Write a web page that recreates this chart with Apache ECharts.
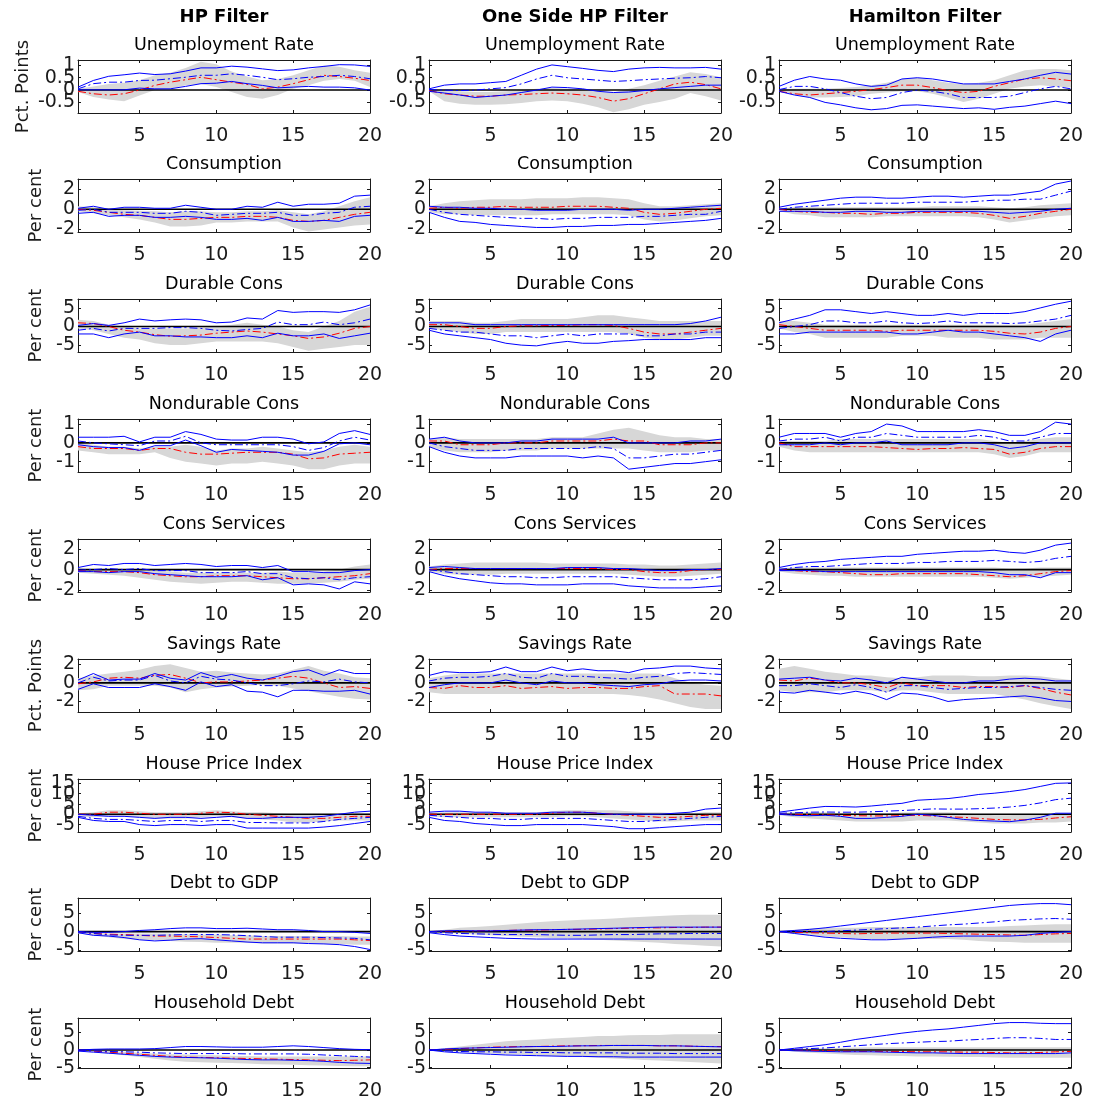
<!DOCTYPE html>
<html><head><meta charset="utf-8">
<script src="https://cdn.jsdelivr.net/npm/echarts@6/dist/echarts.min.js"></script>
<style>html,body{margin:0;padding:0;background:#fff}#c{width:1097px;height:1101px}</style>
</head><body><div id="c"></div><script>
// ---------------- DATA ----------------
var horizons = [1,2,3,4,5,6,7,8,9,10,11,12,13,14,15,16,17,18,19,20];
var xTickValues = [5,10,15,20];
var columnTitles = ['HP Filter','One Side HP Filter','Hamilton Filter'];
var colKeys = ['hp','os','ham'];
var rowKeys = ['unemp','cons','dur','nondur','serv','sav','hpi','dgdp','hhd'];
var rowTitles = ['Unemployment Rate','Consumption','Durable Cons','Nondurable Cons','Cons Services','Savings Rate','House Price Index','Debt to GDP','Household Debt'];
var rowUnits = ['Pct. Points','Per cent','Per cent','Per cent','Per cent','Pct. Points','Per cent','Per cent','Per cent'];
var yMinByRow = [-0.93,-2.25,-6.85,-1.55,-2.2,-3.13,-8.6,-5.2,-5.1];
var yMaxByRow = [1.22,3,7.4,1.27,3,2.56,17.1,9,9.1];
var yTickLabels = [[-0.5,0,0.5,1],[-2,0,2],[-5,0,5],[-1,0,1],[-2,0,2],[-2,0,2],[-5,0,5,10,15],[-5,0,5],[-5,0,5]];
var zeroLevel = 0;

// Unemployment
var unemp_hp_gHi = [0.05,0.15,0.25,0.3,0.4,0.6,0.7,0.9,1.15,1.05,0.75,0.55,0.4,0.45,0.6,0.8,1.0,0.95,0.8,0.7];
var unemp_hp_gLo = [-0.08,-0.28,-0.38,-0.45,-0.22,0,0.05,0.2,0.25,0.12,-0.08,-0.28,-0.35,-0.2,0.05,0.2,0.38,0.45,0.38,0.12];
var unemp_hp_red = [-0.05,-0.15,-0.2,-0.15,0,0.19,0.32,0.42,0.52,0.42,0.32,0.23,0.05,0.12,0.26,0.42,0.6,0.55,0.48,0.39];
var unemp_hp_bMid = [0.05,0.26,0.32,0.32,0.39,0.4,0.46,0.52,0.6,0.6,0.66,0.6,0.52,0.42,0.46,0.52,0.55,0.6,0.55,0.46];
var unemp_hp_bHi = [0.12,0.39,0.56,0.62,0.69,0.63,0.66,0.77,0.9,0.9,0.97,0.93,0.86,0.79,0.82,0.9,0.96,1.03,1.02,0.96];
var unemp_hp_bLo = [0.01,0.01,0.01,0.01,0.08,0.05,0.05,0.15,0.26,0.28,0.35,0.26,0.19,0.09,0.12,0.15,0.12,0.12,0.09,0];

var unemp_os_gHi = [0.02,-0.02,-0.05,-0.08,-0.08,-0.05,0,0.05,0.08,0.05,0.02,-0.05,-0.1,0.05,0.2,0.38,0.55,0.72,0.65,0.52];
var unemp_os_gLo = [-0.05,-0.45,-0.55,-0.6,-0.6,-0.58,-0.52,-0.45,-0.42,-0.45,-0.55,-0.7,-0.9,-0.78,-0.6,-0.48,-0.35,-0.12,-0.25,-0.42];
var unemp_os_red = [-0.02,-0.15,-0.2,-0.25,-0.25,-0.2,-0.18,-0.15,-0.12,-0.15,-0.2,-0.3,-0.45,-0.35,-0.15,0.05,0.25,0.32,0.22,0.05];
var unemp_os_bMid = [0.02,0,-0.02,0,0.05,0.1,0.25,0.45,0.6,0.5,0.45,0.4,0.35,0.38,0.42,0.45,0.48,0.5,0.55,0.5];
var unemp_os_bHi = [0.05,0.2,0.25,0.25,0.3,0.35,0.6,0.85,1.02,0.95,0.88,0.8,0.75,0.85,0.9,0.92,0.9,0.9,0.92,0.85];
var unemp_os_bLo = [-0.05,-0.12,-0.2,-0.3,-0.25,-0.2,-0.1,0,0.12,0.1,0.05,-0.05,-0.1,-0.08,-0.02,0.05,0.1,0.15,0.2,0.2];

var unemp_ham_gHi = [0.02,0.05,0.05,0.05,0.08,0.12,0.2,0.3,0.45,0.5,0.4,0.3,0.25,0.3,0.4,0.6,0.8,0.85,0.85,0.8];
var unemp_ham_gLo = [-0.05,-0.2,-0.3,-0.3,-0.28,-0.25,-0.15,-0.1,-0.05,-0.05,-0.15,-0.3,-0.48,-0.35,-0.15,0.05,0.15,0.2,0.15,0.1];
var unemp_ham_red = [-0.05,-0.15,-0.2,-0.15,-0.1,-0.05,0.02,0.1,0.2,0.2,0.1,-0.02,-0.1,-0.05,0.15,0.3,0.45,0.5,0.45,0.38];
var unemp_ham_bMid = [0.02,0.15,0.15,0.05,-0.1,-0.25,-0.35,-0.3,-0.1,0,-0.05,-0.15,-0.3,-0.3,-0.3,-0.25,-0.1,0.05,0.15,0.05];
var unemp_ham_bHi = [0.15,0.4,0.55,0.45,0.4,0.25,0.15,0.2,0.45,0.5,0.45,0.35,0.25,0.25,0.25,0.35,0.45,0.6,0.72,0.65];
var unemp_ham_bLo = [-0.05,-0.2,-0.3,-0.5,-0.6,-0.72,-0.8,-0.75,-0.62,-0.6,-0.65,-0.7,-0.75,-0.72,-0.78,-0.7,-0.65,-0.55,-0.45,-0.55];

// Consumption
var cons_hp_gHi = [0.3,0.2,0,-0.1,-0.15,-0.2,-0.3,-0.2,-0.2,-0.3,-0.3,-0.2,-0.2,-0.1,-0.3,-0.5,-0.2,0.3,0.8,1.2];
var cons_hp_gLo = [-0.2,-0.4,-0.6,-0.8,-1.0,-1.3,-1.7,-1.7,-1.6,-1.3,-1.3,-1.2,-1.2,-1.2,-1.8,-2.2,-2.0,-1.8,-1.6,-1.5];
var cons_hp_red = [0,-0.1,-0.3,-0.5,-0.6,-0.8,-1.0,-1.0,-0.9,-0.8,-0.8,-0.7,-0.7,-0.8,-1.1,-1.2,-1.1,-0.8,-0.5,-0.3];
var cons_hp_bMid = [-0.1,0,-0.3,-0.3,-0.3,-0.4,-0.4,-0.2,-0.3,-0.6,-0.5,-0.4,-0.4,-0.3,-0.6,-0.6,-0.4,-0.3,0.2,0.3];
var cons_hp_bHi = [0.1,0.3,0,0.2,0.2,0.1,0.1,0.4,0.2,0,0,0.3,0.2,0.7,0.3,0.5,0.5,0.6,1.3,1.4];
var cons_hp_bLo = [-0.4,-0.3,-0.7,-0.6,-0.6,-0.8,-0.8,-0.7,-0.8,-1.0,-1.0,-0.9,-1.1,-0.8,-1.2,-1.2,-1.1,-1.2,-0.7,-0.6];

var cons_os_gHi = [0.3,0.6,0.8,0.9,1.0,1.0,1.0,1.1,1.1,1.1,1.2,1.2,1.1,1.0,0.6,0.3,0.3,0.4,0.5,0.6];
var cons_os_gLo = [-0.3,-0.5,-0.5,-0.6,-0.6,-0.6,-0.6,-0.6,-0.5,-0.5,-0.5,-0.5,-0.5,-0.6,-1.0,-1.2,-1.1,-0.9,-0.7,-0.6];
var cons_os_red = [0.1,0.2,0.1,0.2,0.2,0.3,0.2,0.2,0.2,0.3,0.3,0.3,0.2,0.1,-0.3,-0.5,-0.4,-0.2,0,0.1];
var cons_os_bMid = [0,-0.3,-0.5,-0.6,-0.7,-0.8,-0.9,-0.9,-1.0,-0.9,-0.9,-0.8,-0.8,-0.8,-0.7,-0.7,-0.6,-0.5,-0.5,-0.2];
var cons_os_bHi = [0.3,0.2,0.2,0.1,0.1,0,0,-0.1,-0.1,-0.1,0,0,0,-0.1,0,0,0.1,0.2,0.3,0.4];
var cons_os_bLo = [-0.3,-0.8,-1.2,-1.3,-1.5,-1.6,-1.7,-1.8,-1.8,-1.7,-1.7,-1.6,-1.6,-1.5,-1.5,-1.4,-1.3,-1.2,-1.1,-0.9];

var cons_ham_gHi = [0.1,0.2,0.2,0.2,0.2,0.2,0.2,0.2,0.2,0.2,0.3,0.3,0.3,0.3,0.2,0.1,0.2,0.4,0.5,0.6];
var cons_ham_gLo = [-0.2,-0.5,-0.6,-0.8,-0.8,-0.8,-0.8,-0.7,-0.7,-0.7,-0.7,-0.7,-0.7,-0.8,-1.0,-1.3,-1.1,-0.9,-0.7,-0.6];
var cons_ham_red = [0,-0.2,-0.3,-0.3,-0.4,-0.4,-0.5,-0.4,-0.4,-0.3,-0.3,-0.3,-0.3,-0.4,-0.6,-0.9,-0.7,-0.4,-0.2,0];
var cons_ham_bMid = [0,0.2,0.3,0.4,0.5,0.6,0.6,0.6,0.6,0.7,0.7,0.7,0.7,0.8,0.9,0.9,1.0,1.0,1.4,1.8];
var cons_ham_bHi = [0.2,0.5,0.7,0.9,1.1,1.2,1.2,1.1,1.1,1.2,1.3,1.3,1.2,1.3,1.4,1.4,1.6,1.8,2.5,2.8];
var cons_ham_bLo = [-0.2,-0.2,-0.2,-0.3,-0.3,-0.2,-0.2,-0.3,-0.3,-0.2,-0.2,-0.2,-0.2,-0.2,-0.3,-0.4,-0.3,-0.2,0,0.1];

// Durable consumption
var dur_hp_gHi = [1.8,1.5,0.5,0,-0.5,-0.5,-0.5,-0.5,-0.3,0,0.5,1.0,0.5,0,-1,-1.5,0,1.5,4,5.3];
var dur_hp_gLo = [-0.5,-1,-2,-3,-3.5,-4.5,-5,-5,-4.5,-4,-4,-4,-4,-4.5,-5.5,-6.5,-6,-5.5,-5,-5];
var dur_hp_red = [1,0.8,0,-1,-1.5,-2.2,-2.6,-2.5,-2.3,-1.8,-1.5,-1.2,-1.5,-2,-2.5,-3.2,-2.8,-1.8,-0.5,0];
var dur_hp_bMid = [-1,-0.5,-1.2,-0.5,-0.5,-0.5,-0.3,-0.3,-0.5,-1.0,-1.2,-0.8,-0.5,1.2,0.5,0.5,1.2,0.5,1.0,2.0];
var dur_hp_bHi = [0.3,0.8,0.3,1.0,2.0,1.5,1.8,2.0,1.8,1.0,1.2,2.3,2.0,4.3,3.8,4.0,4.0,3.8,4.5,5.8];
var dur_hp_bLo = [-2.0,-2.0,-3.0,-2.0,-1.5,-2.5,-2.5,-2.8,-2.8,-3.0,-3.0,-2.5,-3.0,-1.8,-2.5,-2.5,-2.0,-3.2,-2.5,-1.8];

var dur_os_gHi = [1.5,1.5,1.5,1.0,1.0,1.5,2,2,2,2,2.5,3,3,2.5,2,1.5,1.5,1.5,1.5,1.5];
var dur_os_gLo = [-0.5,-1,-1.5,-2,-2,-1.5,-1.5,-1.5,-1.5,-1.5,-1.5,-1.5,-1.5,-2,-3,-3.5,-3.5,-3,-2.5,-2.5];
var dur_os_red = [0.5,0.5,0,-0.5,-0.5,0,0.2,0.2,0.3,0.3,0.5,0.5,0.3,-0.5,-1.5,-2,-2,-1.5,-1,-0.5];
var dur_os_bMid = [-0.5,-1,-1.5,-1.5,-2,-2.5,-2.5,-3,-2.5,-2,-2.5,-2,-2,-2,-2.5,-2.5,-2,-2,-1.5,-1.5];
var dur_os_bHi = [1,1,1,0.5,0.5,0.5,0.5,0.5,0.5,0.5,0.5,0.5,0.5,0.5,0.5,0.5,0.5,0.8,1.5,2.5];
var dur_os_bLo = [-1,-2,-2.5,-3,-3.5,-4.5,-5,-5.2,-4.5,-4,-4.5,-4.5,-4,-3.8,-3.5,-3.5,-3.5,-3.5,-3,-3];

var dur_ham_gHi = [1.5,1.5,1,0.5,0.5,0.5,0.5,0.5,0.5,0.5,0.5,0.5,0.5,0.5,0.5,0.5,0.5,1,1.5,2];
var dur_ham_gLo = [-0.5,-1.5,-2,-3,-3,-3,-3,-3,-2.5,-2.5,-2.5,-3,-3,-3,-3.5,-3.5,-3.5,-3,-3,-3];
var dur_ham_red = [0.5,0,-0.5,-1,-1,-1,-1,-1.3,-1,-1,-1,-1,-1,-1,-1.3,-1.8,-2,-1.5,-0.5,0];
var dur_ham_bMid = [-0.5,0,0.5,1.5,1.5,1,1,1.5,1,0.8,1,1.5,1,1,1,0.8,1,1.5,2,3];
var dur_ham_bHi = [1,2,3,4.5,4.5,4,3.5,4,3.5,3,3,3.5,3,3.5,3.5,3.5,4,5,6,6.8];
var dur_ham_bLo = [-2,-2,-1.5,-1.5,-1.5,-1.5,-1.5,-1.5,-2,-2,-1.5,-1,-1.5,-1.5,-2,-2.5,-3,-4,-2,-1];

// Nondurable consumption
var nondur_hp_gHi = [0,-0.1,-0.2,-0.2,-0.3,-0.2,-0.2,-0.1,-0.2,-0.4,-0.3,-0.3,-0.2,-0.3,-0.4,-0.5,-0.4,-0.2,-0.1,-0.2];
var nondur_hp_gLo = [-0.4,-0.5,-0.6,-0.6,-0.6,-0.5,-0.8,-1.0,-1.1,-1.2,-1.1,-1.1,-1.0,-1.1,-1.2,-1.4,-1.4,-1.2,-1.1,-1.1];
var nondur_hp_red = [-0.2,-0.3,-0.3,-0.3,-0.4,-0.3,-0.3,-0.5,-0.6,-0.6,-0.55,-0.5,-0.5,-0.5,-0.6,-0.85,-0.8,-0.6,-0.55,-0.5];
var nondur_hp_bMid = [0.1,0,-0.05,-0.1,-0.15,0.1,0.1,0.35,0,-0.1,-0.1,-0.1,-0.1,-0.1,-0.2,-0.4,-0.25,0.1,0.3,0.15];
var nondur_hp_bHi = [0.3,0.3,0.3,0.35,0.05,0.3,0.3,0.6,0.45,0.2,0.15,0.15,0.3,0.3,0.2,-0.05,0.05,0.5,0.65,0.45];
var nondur_hp_bLo = [-0.1,-0.2,-0.25,-0.25,-0.4,-0.15,-0.15,0.15,-0.15,-0.5,-0.35,-0.4,-0.45,-0.5,-0.65,-0.65,-0.45,-0.05,0,-0.1];

var nondur_os_gHi = [0.2,0.3,0.2,0.2,0.2,0.2,0.2,0.2,0.3,0.3,0.3,0.5,0.7,0.8,0.6,0.4,0.3,0.3,0.2,0.2];
var nondur_os_gLo = [-0.2,-0.4,-0.5,-0.5,-0.5,-0.4,-0.4,-0.4,-0.3,-0.3,-0.3,-0.3,-0.3,-0.3,-0.4,-0.5,-0.5,-0.5,-0.4,-0.4];
var nondur_os_red = [0.1,0.1,-0.1,-0.1,-0.1,0,0,0,0.1,0.1,0.1,0.1,0.2,0.1,0.1,-0.1,-0.1,-0.1,0,0];
var nondur_os_bMid = [0,-0.2,-0.3,-0.4,-0.4,-0.4,-0.3,-0.3,-0.3,-0.3,-0.3,-0.2,-0.3,-0.8,-0.8,-0.7,-0.6,-0.6,-0.5,-0.4];
var nondur_os_bHi = [0.2,0.3,0.1,0,0,0,0.1,0.1,0.2,0.2,0.2,0.2,0.3,0,0,0,0,0.1,0.1,0.2];
var nondur_os_bLo = [-0.2,-0.5,-0.7,-0.8,-0.8,-0.8,-0.7,-0.7,-0.7,-0.7,-0.8,-0.7,-0.8,-1.4,-1.3,-1.2,-1.1,-1.1,-1.0,-0.9];

var nondur_ham_gHi = [0.1,0.1,0.1,0.1,0.2,0.2,0.2,0.2,0.2,0.2,0.2,0.2,0.2,0.2,0.1,0,0.1,0.2,0.3,0.3];
var nondur_ham_gLo = [-0.2,-0.4,-0.5,-0.5,-0.5,-0.5,-0.5,-0.5,-0.5,-0.5,-0.5,-0.5,-0.5,-0.5,-0.6,-0.8,-0.7,-0.5,-0.5,-0.5];
var nondur_ham_red = [0,-0.2,-0.2,-0.2,-0.2,-0.2,-0.2,-0.25,-0.3,-0.35,-0.3,-0.3,-0.25,-0.3,-0.35,-0.6,-0.5,-0.3,-0.2,-0.2];
var nondur_ham_bMid = [0.1,0.2,0.2,0.3,0.1,0.3,0.3,0.5,0.4,0.3,0.3,0.3,0.3,0.4,0.3,0.1,0.1,0.3,0.5,0.5];
var nondur_ham_bHi = [0.3,0.5,0.5,0.5,0.3,0.5,0.6,1.0,0.9,0.6,0.6,0.6,0.6,0.7,0.6,0.4,0.4,0.6,1.1,1.0];
var nondur_ham_bLo = [-0.1,-0.1,-0.1,0,-0.1,0,0,0.1,-0.1,-0.1,-0.1,-0.1,0,0,-0.1,-0.3,-0.2,0,0,0];

// Consumption services
var serv_hp_gHi = [0.1,0,0,-0.1,-0.1,-0.1,-0.2,-0.3,-0.3,-0.3,-0.3,-0.3,-0.3,-0.2,-0.3,-0.3,-0.2,0,0.3,0.5];
var serv_hp_gLo = [-0.3,-0.4,-0.5,-0.6,-0.8,-1.0,-1.2,-1.3,-1.4,-1.3,-1.2,-1.2,-1.3,-1.4,-1.4,-1.4,-1.3,-1.2,-1.0,-0.9];
var serv_hp_red = [-0.1,-0.2,-0.2,-0.2,-0.3,-0.5,-0.6,-0.7,-0.7,-0.6,-0.6,-0.6,-0.7,-0.8,-0.9,-0.9,-0.8,-0.7,-0.6,-0.4];
var serv_hp_bMid = [-0.05,0,0.1,0,0.1,-0.1,-0.1,-0.1,-0.3,-0.3,-0.3,-0.2,-0.4,-0.4,-0.8,-0.9,-0.8,-1.0,-0.8,-0.7];
var serv_hp_bHi = [0.2,0.5,0.4,0.6,0.6,0.4,0.5,0.6,0.5,0.3,0.4,0.4,0.2,0.4,-0.2,-0.2,-0.3,-0.3,-0.1,0];
var serv_hp_bLo = [-0.2,-0.2,-0.3,-0.2,-0.2,-0.4,-0.5,-0.6,-0.7,-0.7,-0.7,-0.6,-1.0,-0.8,-1.5,-1.4,-1.5,-1.9,-1.2,-1.4];

var serv_os_gHi = [0.3,0.5,0.6,0.7,0.7,0.7,0.7,0.7,0.6,0.6,0.6,0.6,0.6,0.5,0.5,0.4,0.4,0.5,0.6,0.7];
var serv_os_gLo = [-0.2,-0.4,-0.5,-0.5,-0.5,-0.4,-0.4,-0.4,-0.4,-0.4,-0.4,-0.4,-0.4,-0.5,-0.6,-0.7,-0.7,-0.6,-0.5,-0.4];
var serv_os_red = [0,0.1,0.1,0.1,0.1,0.1,0.1,0.1,0.1,0.1,0.1,0.1,0,0,-0.2,-0.3,-0.3,-0.1,0,0];
var serv_os_bMid = [0,-0.2,-0.4,-0.5,-0.6,-0.7,-0.7,-0.8,-0.8,-0.7,-0.7,-0.7,-0.7,-0.8,-0.9,-1.0,-1.0,-1.0,-0.9,-0.7];
var serv_os_bHi = [0.2,0.3,0.2,0.1,0.1,0.1,0.1,0.1,0.1,0.2,0.2,0.2,0.1,0.1,0,-0.1,-0.1,0,0,0.1];
var serv_os_bLo = [-0.2,-0.6,-0.9,-1.1,-1.3,-1.4,-1.4,-1.5,-1.5,-1.5,-1.4,-1.4,-1.4,-1.6,-1.7,-1.8,-1.8,-1.8,-1.7,-1.6];

var serv_ham_gHi = [0.1,0.2,0.2,0.2,0.2,0.2,0.2,0.2,0.2,0.2,0.2,0.2,0.2,0.2,0.2,0.1,0.1,0.2,0.2,0.2];
var serv_ham_gLo = [-0.2,-0.4,-0.5,-0.6,-0.6,-0.7,-0.7,-0.7,-0.7,-0.7,-0.7,-0.7,-0.7,-0.7,-0.8,-0.9,-0.8,-0.7,-0.6,-0.5];
var serv_ham_red = [0,-0.1,-0.2,-0.2,-0.3,-0.4,-0.5,-0.5,-0.4,-0.4,-0.4,-0.4,-0.4,-0.5,-0.6,-0.7,-0.6,-0.4,-0.2,-0.1];
var serv_ham_bMid = [0,0.2,0.3,0.3,0.4,0.5,0.6,0.6,0.6,0.7,0.7,0.8,0.8,0.8,0.9,0.8,0.7,0.8,1.1,1.3];
var serv_ham_bHi = [0.2,0.5,0.7,0.8,1.0,1.1,1.2,1.3,1.3,1.5,1.6,1.7,1.8,1.8,1.9,1.7,1.6,1.9,2.4,2.6];
var serv_ham_bLo = [-0.1,-0.1,-0.1,-0.2,-0.2,-0.2,-0.2,-0.2,-0.2,-0.2,-0.2,-0.2,-0.2,-0.2,-0.3,-0.5,-0.5,-0.8,-0.3,-0.3];

// Savings rate
var sav_hp_gHi = [0.5,0.8,1.0,1.2,1.4,1.8,2.0,1.6,1.2,1.3,1.1,1.0,0.9,1.0,1.4,1.8,1.3,1.0,0.6,0.5];
var sav_hp_gLo = [-0.8,-0.7,-0.3,-0.3,-0.3,-0.3,-0.5,-1.0,-0.7,-0.5,-0.4,-0.3,-0.2,-0.3,-0.6,-0.9,-1.2,-1.5,-1.7,-1.8];
var sav_hp_red = [-0.1,0.1,0.5,0.6,0.5,0.8,0.9,0.5,0,0.1,0.1,0.2,0.3,0.5,0.7,0.5,0,-0.5,-0.4,-0.6];
var sav_hp_bMid = [0,0.6,0.2,0.3,0.3,0.8,0.2,0,0.7,0.4,0.3,0,-0.3,-0.3,-0.1,0.2,0.1,0.4,0.1,0];
var sav_hp_bHi = [0.3,1.0,0.3,0.4,0.4,1.0,0.5,0.3,1.1,0.6,0.9,0.5,0.3,0.7,1.2,1.4,0.8,1.4,1.0,1.0];
var sav_hp_bLo = [-0.7,-0.1,-0.5,-0.5,-0.5,-0.1,-0.4,-0.8,0.1,-0.4,-0.2,-0.9,-1.0,-1.5,-0.8,-0.8,-0.9,-0.9,-0.8,-1.2];

var sav_os_gHi = [0.5,0.8,1.0,1.0,1.0,1.0,1.0,1.0,1.0,1.0,1.0,1.0,1.0,1.0,1.0,1.0,0.5,0,-0.2,-0.3];
var sav_os_gLo = [-1.0,-1.2,-1.2,-1.2,-1.2,-1.2,-1.2,-1.2,-1.2,-1.2,-1.2,-1.2,-1.2,-1.3,-1.5,-1.8,-2.2,-2.6,-2.8,-2.8];
var sav_os_red = [-0.5,-0.6,-0.3,-0.5,-0.5,-0.3,-0.6,-0.5,-0.4,-0.6,-0.5,-0.5,-0.6,-0.6,-0.4,-0.3,-1.2,-1.2,-1.2,-1.4];
var sav_os_bMid = [0.2,0.5,0.6,0.6,0.7,1.0,0.6,0.5,1.0,0.7,0.7,0.6,0.5,0.4,0.6,0.7,1.0,1.1,1.0,0.9];
var sav_os_bHi = [0.8,1.2,1.1,1.1,1.2,1.7,1.2,1.2,1.7,1.3,1.5,1.3,1.3,1.1,1.5,1.6,1.8,1.8,1.6,1.5];
var sav_os_bLo = [-0.5,-0.2,0,0,0,0.3,0,-0.2,0.2,0,0,-0.2,-0.3,-0.4,-0.2,-0.1,0.2,0.3,0.3,0.2];

var sav_ham_gHi = [1.5,1.8,1.5,1.2,1.0,0.8,0.8,0.6,0.5,0.6,0.8,0.8,0.8,0.7,0.7,0.8,0.8,0.7,0.5,0.3];
var sav_ham_gLo = [-0.8,-1.0,-1.0,-1.0,-0.8,-0.8,-0.8,-1.0,-0.8,-0.8,-1.0,-1.2,-1.2,-1.2,-1.2,-1.5,-1.8,-2.2,-2.5,-2.8];
var sav_ham_red = [0.3,0.2,0.5,0.3,0,0,-0.2,-0.5,0,-0.3,-0.3,-0.3,-0.5,-0.4,-0.4,-0.5,-0.3,-0.6,-1.0,-1.3];
var sav_ham_bMid = [-0.3,-0.3,-0.1,-0.3,-0.5,-0.2,-0.5,-1.0,-0.3,-0.3,-0.5,-0.7,-0.6,-0.5,-0.5,-0.4,-0.3,-0.5,-0.7,-0.8];
var sav_ham_bHi = [0.4,0.5,0.6,0.3,0.2,0.5,0.3,0,0.6,0.4,0.2,0,0,0.2,0.2,0.4,0.5,0.4,0.2,0.2];
var sav_ham_bLo = [-1.0,-1.1,-0.8,-1.0,-1.2,-0.9,-1.2,-1.8,-1.1,-1.2,-1.5,-2.0,-1.8,-1.7,-1.6,-1.5,-1.4,-1.6,-1.9,-2.0];

// House price index
var hpi_hp_gHi = [0.5,1.0,2.0,2.0,1.5,1.0,1.0,1.0,1.5,2.0,1.5,1.0,1.0,0.5,0,0,-0.5,0,0.5,0.5];
var hpi_hp_gLo = [-1,-1.5,-1,-1,-1.5,-2,-2,-2,-1.5,-1,-1.5,-2,-2.5,-3,-4,-4,-3.5,-3,-3,-3];
var hpi_hp_red = [0,0,1,1,0.5,0,0,0,0.5,1,0.8,0,-0.5,-1,-1.5,-2,-2,-1.5,-1,-1];
var hpi_hp_bMid = [-1,-2,-2.5,-2.5,-3,-3.5,-3,-3,-3.5,-3,-3,-4,-4,-4.2,-4.2,-4.2,-3.5,-2.5,-2,-1.5];
var hpi_hp_bHi = [0,-0.5,-1,-1,-1.5,-2,-1.5,-1.5,-2,-1.5,-1,-2,-2,-1.5,-1.5,-1.5,-1,0,1,1.5];
var hpi_hp_bLo = [-1.5,-3,-3.5,-3.5,-5,-5.5,-5,-5,-5.5,-5,-5,-6.7,-6.7,-6.7,-6.7,-6.7,-6.2,-5.5,-4.5,-3.5];

var hpi_os_gHi = [0.5,1,1,1,1,1,1,1,1.5,2,2,2,2,1.5,1,1,0.5,0.5,1,1];
var hpi_os_gLo = [-1,-1.5,-1.5,-1.5,-1.5,-1.5,-1.5,-1.5,-1.5,-1,-1,-1.5,-2,-2.5,-3,-3.5,-3.5,-3,-3,-3];
var hpi_os_red = [0,0,0,0,0,0,0,0,0.5,1,1,0.5,0,-0.5,-1,-1.5,-1.5,-1,-0.5,-0.5];
var hpi_os_bMid = [-0.5,-1,-1.5,-2,-2,-2.5,-2.5,-2,-2,-2,-2,-2.5,-3,-3.5,-3.5,-3,-2.5,-2,-1.5,-1];
var hpi_os_bHi = [1,1.5,1.5,1,1,0.5,0.5,0.5,1,1,1,0.5,0,0,0,0,0.5,1,2.5,3];
var hpi_os_bLo = [-1.5,-3,-3.5,-4.5,-5,-5.5,-5.5,-5,-5,-5,-5,-5.5,-6,-7,-7,-6.5,-6,-5.5,-5,-5];

var hpi_ham_gHi = [0.5,1,1,1,0.5,0.5,0.5,0.5,0.8,1,1,1,0.5,0,-0.5,-0.5,0,0,0.5,0.5];
var hpi_ham_gLo = [-0.5,-1.5,-2,-2.5,-3,-3.5,-3.5,-3.5,-3.5,-3,-3,-3,-3.5,-4,-4.5,-4.5,-4.5,-4,-4,-3.5];
var hpi_ham_red = [0,0,-0.2,-0.3,-0.5,-0.7,-0.8,-0.8,-0.7,-0.5,-0.8,-1.2,-1.5,-2,-2.5,-2.7,-2.7,-2.5,-1.8,-1.2];
var hpi_ham_bMid = [0.5,0.7,1,1.1,1,1,1.2,1.5,1.8,2.2,2.6,2.5,2.5,2.7,3,3.5,4.3,5.5,7.1,7.8];
var hpi_ham_bHi = [1,2,3,3.8,3.7,3.5,4,4.7,5.3,6.8,7.2,7.6,8.5,9.6,10.2,11,12,13.5,15,15.2];
var hpi_ham_bLo = [0,-0.5,-0.7,-0.5,-1,-2,-2,-1.5,-1,0,-0.5,-1.5,-2.5,-3,-3.3,-3.6,-2.8,-1.5,0.5,0.5];

// Debt to GDP
var dgdp_hp_gHi = [0,-0.3,-0.5,-0.5,-0.5,-0.5,-0.5,-0.7,-0.8,-0.8,-1,-1,-1.2,-1.2,-1.2,-1.2,-1.2,-1.2,-1.3,-1.3];
var dgdp_hp_gLo = [-0.5,-1,-1.5,-2,-2.2,-2.3,-2.5,-2.7,-2.8,-3,-3,-3,-3.2,-3.2,-3.2,-3.2,-3.3,-3.3,-3.5,-3.5];
var dgdp_hp_red = [0,-0.5,-0.7,-0.8,-1,-1.2,-1.2,-1.3,-1.4,-1.6,-1.8,-2,-2,-2,-2,-2,-2,-2,-2.2,-2.4];
var dgdp_hp_bMid = [0,-0.5,-0.9,-1,-1,-1,-0.9,-0.8,-0.8,-0.8,-0.9,-1.1,-1.3,-1.5,-1.5,-1.5,-1.6,-1.7,-1.8,-2.2];
var dgdp_hp_bHi = [0,-0.2,-0.2,0,0.3,0.5,0.8,1.0,1.0,0.8,0.8,0.9,0.7,0.5,0.5,0.3,0,0,-0.2,-0.5];
var dgdp_hp_bLo = [-0.3,-1,-1.2,-1.6,-2.2,-2.5,-2.3,-2,-1.9,-2.2,-2.5,-2.8,-3,-3,-3,-3.2,-3.3,-3.5,-4,-4.8];

var dgdp_os_gHi = [0,0.5,1,1.2,1.5,1.8,2.2,2.5,2.8,3,3.2,3.3,3.5,3.8,4,4.2,4.4,4.5,4.5,4.5];
var dgdp_os_gLo = [0,-0.3,-0.5,-0.8,-1,-1.2,-1.4,-1.5,-1.7,-1.8,-2,-2.2,-2.4,-2.6,-2.8,-3,-3.3,-3.5,-3.8,-4];
var dgdp_os_red = [0,0.1,0.2,0.2,0.3,0.3,0.4,0.4,0.5,0.6,0.6,0.7,0.8,0.9,1,1,1.1,1.1,1.2,1.2];
var dgdp_os_bMid = [0,-0.3,-0.5,-0.6,-0.7,-0.8,-0.8,-0.8,-0.9,-1,-1,-0.9,-0.8,-0.8,-0.7,-0.6,-0.6,-0.5,-0.5,-0.5];
var dgdp_os_bHi = [0,0.2,0.3,0.2,0.2,0.3,0.4,0.5,0.5,0.6,0.7,0.8,0.9,1,1.1,1.2,1.2,1.2,1.2,1.2];
var dgdp_os_bLo = [-0.3,-0.8,-1.2,-1.4,-1.6,-1.8,-1.9,-2,-2,-2,-2,-2,-2,-2,-2,-2,-2,-2,-2,-2];

var dgdp_ham_gHi = [0,0.5,0.8,1,1,1,1.2,1.2,1.2,1.2,1.2,1.2,1.2,1.2,1.3,1.5,1.6,1.8,2,2];
var dgdp_ham_gLo = [0,-0.5,-1,-1.3,-1.5,-1.8,-2,-2,-2,-2,-2,-2,-2.2,-2.5,-2.7,-2.8,-3,-3,-3,-3];
var dgdp_ham_red = [0,-0.2,-0.3,-0.4,-0.5,-0.6,-0.5,-0.4,-0.4,-0.4,-0.4,-0.5,-0.6,-0.7,-0.8,-0.9,-1,-0.8,-0.6,-0.5];
var dgdp_ham_bMid = [0,0,0,0,0.2,0.4,0.6,0.8,1,1.2,1.5,1.8,2,2.3,2.6,3,3.2,3.4,3.5,3.3];
var dgdp_ham_bHi = [0,0.3,0.6,1,1.5,2,2.5,3,3.5,4,4.5,5,5.5,6,6.5,7,7.3,7.5,7.5,7.2];
var dgdp_ham_bLo = [0,-0.5,-1,-1.5,-1.8,-2,-2.2,-2.2,-2,-1.8,-1.5,-1.3,-1.2,-1.2,-1.2,-1.2,-1,-0.5,-0.2,0];

// Household debt
var hhd_hp_gHi = [0,-0.2,-0.3,-0.5,-0.8,-1,-1.2,-1.3,-1.4,-1.5,-1.6,-1.7,-1.8,-1.8,-1.8,-1.8,-1.8,-1.8,-1.8,-1.8];
var hhd_hp_gLo = [0,-0.5,-1,-1.5,-2,-2.5,-3,-3.3,-3.5,-3.6,-3.7,-3.8,-4,-4.1,-4.2,-4.3,-4.4,-4.5,-4.6,-4.6];
var hhd_hp_red = [0,-0.3,-0.6,-0.9,-1.2,-1.5,-1.8,-2,-2.1,-2.2,-2.3,-2.4,-2.5,-2.6,-2.7,-2.8,-2.9,-3,-2.9,-2.8];
var hhd_hp_bMid = [0,-0.2,-0.4,-0.5,-0.6,-0.8,-0.9,-1,-1,-1,-1,-1.1,-1.1,-1.1,-1.1,-1.2,-1.4,-1.6,-1.8,-2];
var hhd_hp_bHi = [0,0.2,0.3,0.3,0.3,0.4,0.7,1,1,0.9,0.8,0.8,0.8,1,1.2,1,0.7,0.4,0.2,0.1];
var hhd_hp_bLo = [-0.3,-0.6,-0.9,-1.2,-1.5,-1.8,-2,-2.1,-2.2,-2.3,-2.5,-2.7,-2.8,-2.8,-2.9,-3,-3.2,-3.5,-3.7,-3.8];

var hhd_os_gHi = [0,0.5,1,1.5,2,2.5,2.8,3,3.3,3.5,3.7,4,4,4.2,4.3,4.3,4.5,4.5,4.5,4.5];
var hhd_os_gLo = [0,-0.3,-0.5,-0.8,-1,-1.2,-1.3,-1.5,-1.7,-1.8,-2,-2.2,-2.4,-2.6,-2.8,-3,-3.2,-3.4,-3.6,-3.8];
var hhd_os_red = [0,0.2,0.4,0.6,0.8,0.9,1,1,1.1,1.2,1.2,1.3,1.3,1.3,1.3,1.2,1.2,1.1,1,1];
var hhd_os_bMid = [0,-0.2,-0.4,-0.5,-0.5,-0.6,-0.6,-0.7,-0.7,-0.8,-0.8,-0.8,-0.8,-0.9,-0.9,-0.9,-1,-1,-1,-1];
var hhd_os_bHi = [0,0.3,0.5,0.6,0.7,0.8,0.9,1,1,1.1,1.2,1.2,1.3,1.3,1.3,1.2,1.2,1.1,1,0.9];
var hhd_os_bLo = [0,-0.5,-0.8,-1,-1.2,-1.4,-1.5,-1.6,-1.7,-1.8,-1.8,-1.9,-1.9,-2,-2,-2,-2,-2,-2,-2];

var hhd_ham_gHi = [0,0.3,0.5,0.5,0.6,0.7,0.8,0.8,0.8,0.8,0.8,0.8,0.8,0.8,0.8,0.8,0.8,0.8,0.8,0.8];
var hhd_ham_gLo = [0,-0.5,-0.8,-1,-1.2,-1.4,-1.5,-1.6,-1.7,-1.8,-1.8,-1.9,-2,-2,-2.1,-2.2,-2.2,-2.2,-2.2,-2.2];
var hhd_ham_red = [0,0,-0.1,-0.2,-0.3,-0.4,-0.4,-0.4,-0.4,-0.5,-0.5,-0.5,-0.6,-0.6,-0.7,-0.8,-0.8,-0.7,-0.5,-0.4];
var hhd_ham_bMid = [0,0.2,0.4,0.6,0.9,1.2,1.5,1.8,2,2.2,2.4,2.5,2.8,3,3.3,3.5,3.5,3.3,3,3];
var hhd_ham_bHi = [0,0.5,1,1.5,2.2,3,3.6,4.2,4.8,5.3,5.7,6,6.5,7,7.5,7.8,7.8,7.6,7.5,7.5];
var hhd_ham_bLo = [0,-0.2,-0.3,-0.4,-0.5,-0.5,-0.5,-0.6,-0.7,-0.8,-0.8,-0.9,-1,-1,-1,-1,-1,-1,-1,-0.8];

// ---------------- LAYOUT / STYLE ----------------
var FONT = '"DejaVu Sans", "Liberation Sans", sans-serif';
var INK = '#1a1a1a';
var colLeft = [78, 429, 779];
var plotW = 292, plotH = 53, top0 = 59.5, rowStep = 119.85;
var dashDot = [8, 3, 2, 3];

var grid = [], xAxis = [], yAxis = [], series = [], graphic = [];

columnTitles.forEach(function (t, c) {
  graphic.push({type:'text', x: colLeft[c] + plotW/2, y: 17, silent:true,
    style:{text:t, font:'bold 18px ' + FONT, fill:'#000', align:'center', verticalAlign:'middle', textAlign:'center', textVerticalAlign:'middle'}});
});

rowKeys.forEach(function (rk, r) {
  var top = Math.round(top0 + r * rowStep);
  graphic.push({type:'text', x: r === 0 ? 23 : 36, y: top + plotH/2, rotation: Math.PI/2, silent:true,
    style:{text: rowUnits[r], font:'18px ' + FONT, fill:INK, align:'center', verticalAlign:'middle', textAlign:'center', textVerticalAlign:'middle'}});
  colKeys.forEach(function (ck, c) {
    var gi = grid.length;
    grid.push({left: colLeft[c], top: top, width: plotW, height: plotH, show:false});
    graphic.push({type:'text', x: colLeft[c] + plotW/2, y: top - 14.5, silent:true,
      style:{text: rowTitles[r], font:'17.5px ' + FONT, fill:'#000', align:'center', verticalAlign:'middle', textAlign:'center', textVerticalAlign:'middle'}});
    var axLine = {show:true, onZero:false, lineStyle:{color:INK, width:1}};
    var xt = {show:true, inside:true, length:3, customValues: xTickValues, lineStyle:{color:INK, width:1}};
    var yt = {show:true, inside:true, length:3, customValues: yTickLabels[r], lineStyle:{color:INK, width:1}};
    var xi = xAxis.length;
    xAxis.push({gridIndex: gi, type:'value', min:1, max:20, position:'bottom', axisLine: axLine, axisTick: xt,
      axisLabel:{show:true, customValues: xTickValues, showMinLabel:true, showMaxLabel:true, hideOverlap:false, fontSize:19, fontFamily:FONT, color:INK, margin:14}, splitLine:{show:false}});
    xAxis.push({gridIndex: gi, type:'value', min:1, max:20, position:'top', axisLine: axLine, axisTick: xt,
      axisLabel:{show:false}, splitLine:{show:false}});
    var yi = yAxis.length;
    yAxis.push({gridIndex: gi, type:'value', min: yMinByRow[r], max: yMaxByRow[r], position:'left', axisLine: axLine, axisTick: yt,
      axisLabel:{show:false}, splitLine:{show:false}});
    yAxis.push({gridIndex: gi, type:'value', min: yMinByRow[r], max: yMaxByRow[r], position:'right', axisLine: axLine, axisTick: yt,
      axisLabel:{show:false}, splitLine:{show:false}});
    // one label-only axis per y tick value, so no label is dropped for overlapping a neighbour
    yTickLabels[r].forEach(function (v) {
      yAxis.push({gridIndex: gi, type:'value', min: yMinByRow[r], max: yMaxByRow[r], position:'left', offset:0,
        axisLine:{show:false}, axisTick:{show:false}, splitLine:{show:false},
        axisLabel:{show:true, customValues:[v], showMinLabel:true, showMaxLabel:true, hideOverlap:false, fontSize:19, fontFamily:FONT, color:INK, margin:3}});
    });
    var p = rk + '_' + ck + '_';
    var gHi = window[p + 'gHi'], gLo = window[p + 'gLo'];
    series.push({type:'custom', xAxisIndex: xi, yAxisIndex: yi, silent:true, clip:true, data:[[1, 0]],
      renderItem: function (params, api) {
        var pts = [];
        for (var i = 0; i < horizons.length; i++) pts.push(api.coord([horizons[i], gHi[i]]));
        for (var j = horizons.length - 1; j >= 0; j--) pts.push(api.coord([horizons[j], gLo[j]]));
        return {type:'polygon', shape:{points: pts}, style:{fill:'#d7d7d7', stroke:null}};
      }});
    function line(vals, color, width, type) {
      series.push({type:'line', xAxisIndex: xi, yAxisIndex: yi, silent:true, symbol:'none', showSymbol:false,
        data: horizons.map(function (h, i) { return [h, vals[i]]; }),
        lineStyle:{color: color, width: width, type: type}});
    }
    line(horizons.map(function () { return zeroLevel; }), '#000', 1.6, 'solid');
    line(window[p + 'red'], '#ff0000', 1, dashDot);
    line(window[p + 'bMid'], '#0000ff', 1, dashDot);
    line(window[p + 'bHi'], '#0000ff', 1, 'solid');
    line(window[p + 'bLo'], '#0000ff', 1, 'solid');
  });
});

var chart = echarts.init(document.getElementById('c'), null, {renderer:'canvas'});
chart.setOption({animation:false, backgroundColor:'#fff', grid: grid, xAxis: xAxis, yAxis: yAxis, series: series, graphic: graphic, tooltip:{show:false}});
</script></body></html>
